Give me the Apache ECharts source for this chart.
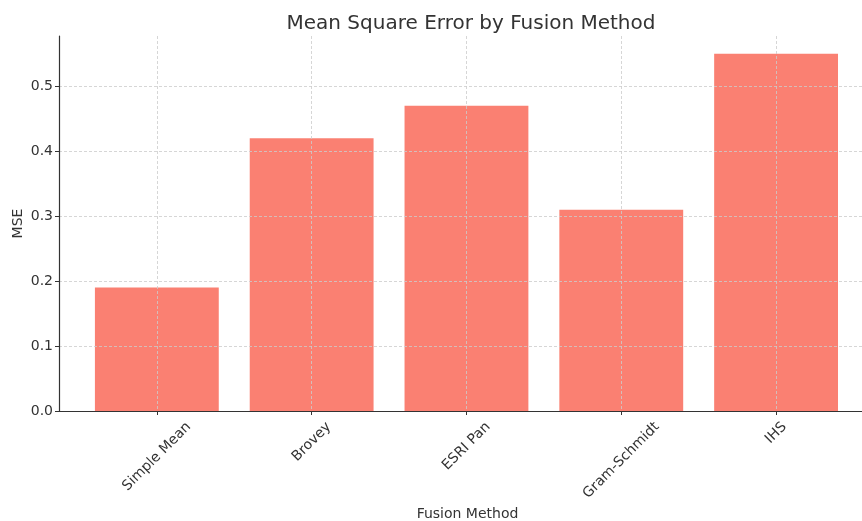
<!DOCTYPE html>
<html>
<head>
<meta charset="utf-8">
<script src="https://cdn.jsdelivr.net/npm/echarts@6/dist/echarts.min.js"></script>
<style>html,body{margin:0;padding:0;background:#fff;}#c{width:862px;height:521px;}</style>
</head>
<body>
<div id="c"></div>
<script>
const categories = ["Simple Mean", "Brovey", "ESRI Pan", "Gram-Schmidt", "IHS"];
const mseValues = [0.19, 0.42, 0.47, 0.31, 0.55];
const yTicks = [0, 0.1, 0.2, 0.3, 0.4, 0.5];

const chart = echarts.init(document.getElementById('c'), null, {renderer: 'canvas'});
const font = 'DejaVu Sans';
const labelSize = 14;
const xMin = -0.632, xMax = 4.555;
const gridLeft = 59, gridRight = 0, gridTop = 36, gridBottom = 110;
const plotW = 862 - gridLeft - gridRight;
const barW = plotW / (xMax - xMin) * 0.8;
const catIdx = categories.map((c, i) => i);

// matplotlib-like rotated labels: bbox centred on tick, bbox top at fixed offset
const ctx = document.createElement('canvas').getContext('2d');
ctx.font = labelSize + 'px "' + font + '"';
const labelMargin = 8;
const bboxTopOffset = 8;
const lineH = 16;
const rich = {};
categories.forEach((c, i) => {
  const L = ctx.measureText(c).width;
  const W = (L + lineH) * Math.SQRT1_2;
  const s = bboxTopOffset + W / 2 - labelMargin;
  const P = s * Math.SQRT2;
  rich['r' + i] = {fontFamily: font, fontSize: labelSize, color: '#333', lineHeight: lineH,
    padding: [P, P, 0, 0]};
});

chart.setOption({
  animation: false,
  backgroundColor: '#fff',
  title: {
    text: 'Mean Square Error by Fusion Method',
    left: 466, top: 9, textAlign: 'center',
    textStyle: {fontFamily: font, fontSize: 20, fontWeight: 'normal', color: '#333'}
  },
  grid: {left: gridLeft, right: gridRight, top: gridTop, bottom: gridBottom, outerBoundsMode: 'none', containLabel: false},
  xAxis: {
    type: 'value', min: xMin, max: xMax, z: 10,
    name: 'Fusion Method', nameLocation: 'middle', nameGap: 96, nameMoveOverlap: false,
    nameTextStyle: {fontFamily: font, fontSize: 14, color: '#333', padding: [0, 0, 0, 14]},
    axisLine: {show: true, onZero: false, lineStyle: {color: '#333', width: 1.2}},
    axisTick: {show: true, length: 4, customValues: catIdx, lineStyle: {color: '#333'}},
    axisLabel: {
      customValues: catIdx, rotate: 45, align: 'center', verticalAlign: 'middle',
      fontFamily: font, fontSize: labelSize, color: '#333', margin: labelMargin,
      formatter: v => { const i = Math.round(v); return '{r' + i + '|' + categories[i] + '}'; },
      rich: rich
    },
    splitLine: {show: true, lineStyle: {color: '#ccc', type: [3, 2], width: 0.8}}
  },
  yAxis: {
    type: 'value', min: 0, max: 0.5775, z: 10,
    name: 'MSE', nameLocation: 'middle', nameGap: 34, nameMoveOverlap: false,
    nameTextStyle: {fontFamily: font, fontSize: 14, color: '#333'},
    axisLine: {show: true, onZero: false, lineStyle: {color: '#333', width: 1.2}},
    axisTick: {show: true, length: 4, customValues: yTicks, lineStyle: {color: '#333'}},
    axisLabel: {customValues: yTicks, fontFamily: font, fontSize: 14, color: '#333', margin: 6,
      formatter: v => v.toFixed(1)},
    splitLine: {show: true, lineStyle: {color: '#ccc', type: [3, 2], width: 0.8}}
  },
  series: [{
    type: 'bar',
    data: mseValues.map((v, i) => [i, v]),
    barWidth: barW,
    itemStyle: {color: '#FA8072'}
  }]
});
</script>
</body>
</html>
